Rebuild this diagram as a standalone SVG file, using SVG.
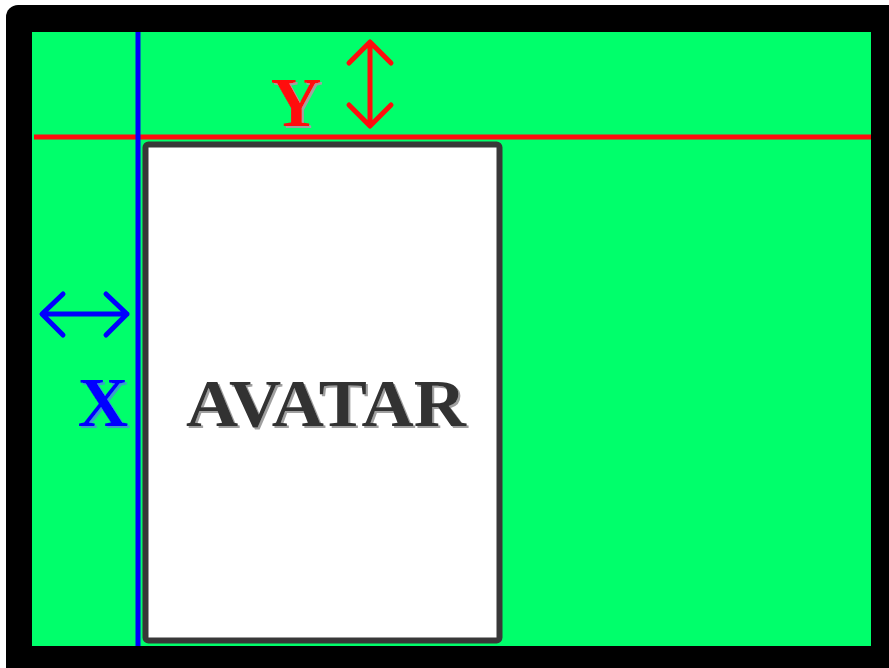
<svg xmlns="http://www.w3.org/2000/svg" width="889" height="668" viewBox="0 0 889 668">
  <style>
    .frame { fill: #000000; }
    .field { fill: #00ff6b; }
    .guide { fill: none; stroke-width: 5; }
    .arrow { fill: none; stroke-width: 5; stroke-linecap: round; stroke-linejoin: round; }
    .label { font-family: "Liberation Serif", "Times New Roman", serif; font-weight: bold; }
    .avatar-box { fill: #ffffff; stroke: #383838; stroke-width: 6; }
  </style>
  <defs>
    <!-- engraved-style offset shadow behind the lettering -->
    <filter id="shadow-grey" x="-20%" y="-20%" width="140%" height="140%">
      <feOffset in="SourceAlpha" dx="2" dy="2" result="off"/>
      <feFlood flood-color="#a0a0a0"/>
      <feComposite in2="off" operator="in" result="sh"/>
      <feMerge><feMergeNode in="sh"/><feMergeNode in="SourceGraphic"/></feMerge>
    </filter>
    <filter id="shadow-teal" x="-20%" y="-20%" width="140%" height="140%">
      <feOffset in="SourceAlpha" dx="2" dy="2" result="off"/>
      <feFlood flood-color="#3aa0c8"/>
      <feComposite in2="off" operator="in" result="sh"/>
      <feMerge><feMergeNode in="sh"/><feMergeNode in="SourceGraphic"/></feMerge>
    </filter>
  </defs>

  <!-- outer frame and background -->
  <g id="frame">
    <rect class="frame" x="6" y="5" width="900" height="700" rx="12"/>
    <rect class="field" x="32" y="32" width="839" height="614"/>
  </g>

  <!-- avatar box -->
  <g id="avatar">
    <rect class="avatar-box" x="145.5" y="144.5" width="354" height="496" rx="3"/>
    <text class="label" x="326" y="426" text-anchor="middle" font-size="68" textLength="280" lengthAdjust="spacingAndGlyphs" fill="#333333" filter="url(#shadow-grey)">AVATAR</text>
  </g>

  <!-- guide lines and offset arrows -->
  <g id="connectors">
    <line class="guide" stroke="#ff0d0d" x1="34" y1="137" x2="871" y2="137"/>
    <line class="guide" stroke="#0000ff" x1="138" y1="32" x2="138" y2="646"/>
    <path class="arrow" stroke="#ff0d0d" d="M370 43 V125 M349 63 L370 42 L391 63 M349 105 L370 126 L391 105"/>
    <path class="arrow" stroke="#0000ff" d="M43 314 H127 M63 294 L42 314 L63 335 M106 294 L127 314 L106 335"/>
  </g>

  <!-- Y offset label -->
  <g id="label-y">
    <text class="label" x="296" y="126" text-anchor="middle" font-size="70" fill="#ff0d0d" filter="url(#shadow-grey)">Y</text>
  </g>

  <!-- X offset label -->
  <g id="label-x">
    <text class="label" x="103" y="426" text-anchor="middle" font-size="70" fill="#0000ff" filter="url(#shadow-teal)">X</text>
  </g>
</svg>
